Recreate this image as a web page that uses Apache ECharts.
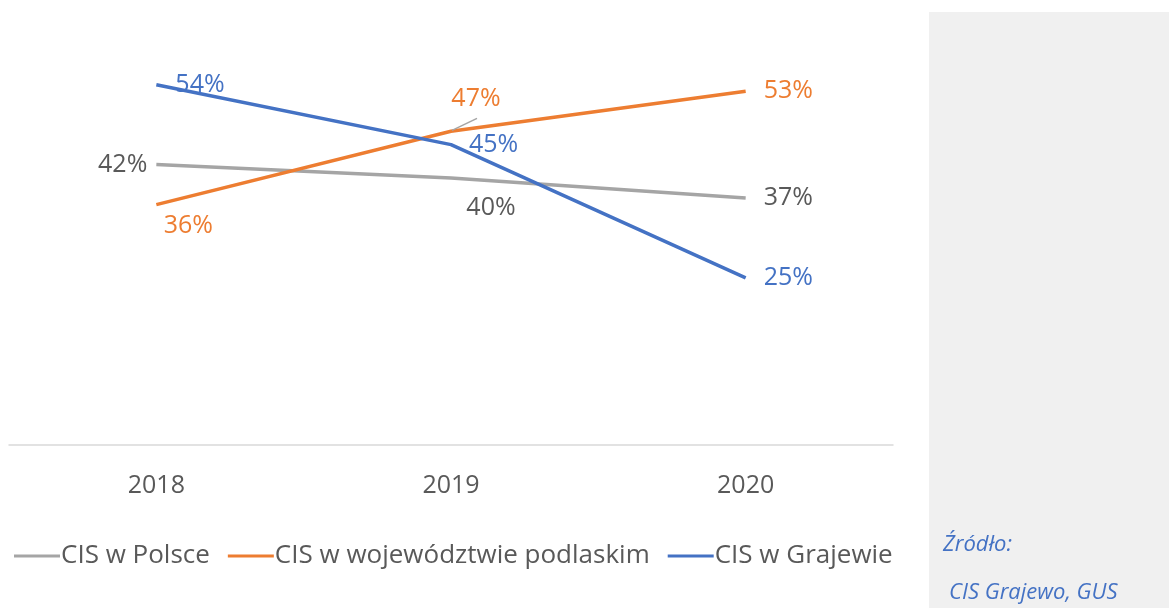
<!DOCTYPE html>
<html>
<head>
<meta charset="utf-8">
<script src="https://cdn.jsdelivr.net/npm/echarts@6/dist/echarts.min.js"></script>
<style>
html, body { margin: 0; padding: 0; background: #fff; }
#chart { width: 1169px; height: 608px; }
</style>
</head>
<body>
<div id="chart"></div>
<script>
// data
const years = ['2018', '2019', '2020'];
const polska = [42, 40, 37];
const podlaskie = [36, 47, 53];
const grajewo = [54, 45, 25];
const seriesNames = ['CIS w Polsce', 'CIS w województwie podlaskim', 'CIS w Grajewie'];

const FONT = '"Open Sans", sans-serif';

// per-point label placement, by series
const labelPos = [
    [{ position: 'left', distance: 9 }, { position: 'bottom', offset: [40, 12] }, { position: 'right', distance: 18 }],
    [{ position: 'bottom', offset: [32, 4] }, { position: 'top', offset: [25, -15] }, { position: 'right', distance: 18 }],
    [{ position: 'right', distance: 19 }, { position: 'right', distance: 18 }, { position: 'right', distance: 18 }]
];
const colors = ['#A5A5A5', '#ED7D31', '#4472C4'];
const labelColors = ['#595959', '#ED7D31', '#4472C4'];

function makeSeries(idx, values) {
    return {
        name: seriesNames[idx],
        type: 'line',
        symbol: 'circle',
        symbolSize: 0,
        showSymbol: true,
        z: idx === 2 ? 3 : 2,
        lineStyle: { width: 3.5, color: colors[idx] },
        itemStyle: { color: colors[idx] },
        data: values.map((v, i) => ({
            value: v,
            label: Object.assign({
                show: true,
                formatter: '{c}%',
                color: labelColors[idx],
                fontSize: 25,
                fontFamily: FONT
            }, labelPos[idx][i])
        }))
    };
}

const chart = echarts.init(document.getElementById('chart'));
chart.setOption({
    animation: false,
    color: colors,
    grid: { left: 9, right: 276, top: 44.7, bottom: 163.6, containLabel: false },
    xAxis: {
        type: 'category',
        data: years,
        boundaryGap: true,
        axisLine: { lineStyle: { color: '#D9D9D9', width: 1.5 } },
        axisTick: { show: false },
        axisLabel: { color: '#595959', fontSize: 25, fontFamily: FONT, margin: 29 }
    },
    yAxis: {
        type: 'value',
        min: 0,
        max: 60,
        show: false,
        splitLine: { show: false }
    },
    legend: {
        top: 538,
        left: 9,
        icon: 'rect',
        itemWidth: 46,
        itemHeight: 3,
        itemGap: 18,
        textStyle: { color: '#595959', fontSize: 26, fontFamily: FONT, padding: [0, 0, 0, -4] },
        data: seriesNames
    },
    graphic: [
        {
            type: 'rect',
            silent: true,
            z: -10,
            shape: { x: 929, y: 12, width: 240, height: 596 },
            style: { fill: '#F0F0F0' }
        },
        {
            type: 'text',
            left: 943,
            top: 534,
            style: { text: 'Źródło:', fill: '#4472C4', font: 'italic 22px "Open Sans", sans-serif' }
        },
        {
            type: 'text',
            left: 949,
            top: 582,
            style: { text: 'CIS Grajewo, GUS', fill: '#4472C4', font: 'italic 22px "Open Sans", sans-serif' }
        }
    ],
    series: [
        makeSeries(0, polska),
        makeSeries(1, podlaskie),
        makeSeries(2, grajewo)
    ]
});

// leader line for the moved 47% label, anchored on the data point through the axis scale
const p = chart.convertToPixel({ seriesIndex: 1 }, [1, podlaskie[1]]);
chart.setOption({
    graphic: [{
        id: 'leader',
        type: 'line',
        silent: true,
        z: 10,
        shape: { x1: p[0] + 1, y1: p[1] - 1, x2: p[0] + 26, y2: p[1] - 13 },
        style: { stroke: '#A5A5A5', lineWidth: 1.5 }
    }]
});
</script>
</body>
</html>
